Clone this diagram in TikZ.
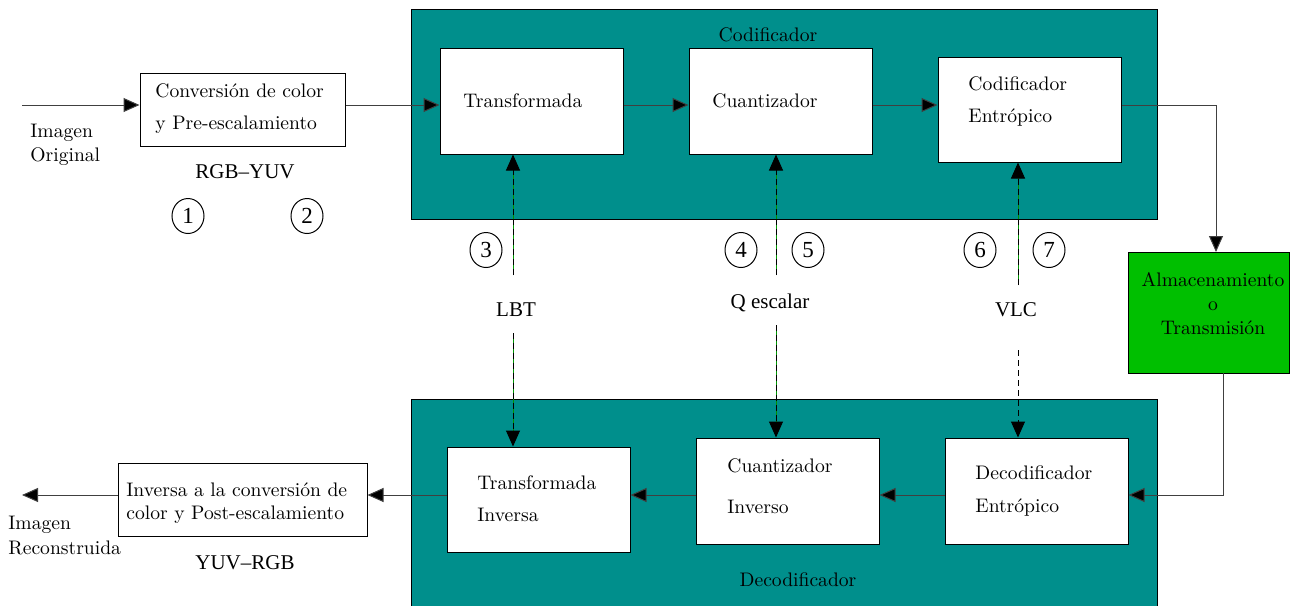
\documentclass[tikz,border=0pt]{standalone}
\usepackage{fontspec}
\newfontfamily\tms{Liberation Serif}
\usetikzlibrary{arrows.meta,shapes.geometric}
\definecolor{tealc}{RGB}{0,143,140}
\definecolor{greenc}{RGB}{0,191,0}
\definecolor{dgreen}{RGB}{0,150,0}
\newcommand\txs[1]{\fontsize{9.8}{#1}\selectfont}
\begin{document}
\begin{tikzpicture}[x=0.5pt,y=-0.5pt,
  font=\txs{12},
  box/.style={draw, fill=white, line width=0.5pt, inner sep=0pt},
  big/.style={draw, fill=tealc, line width=0.5pt, inner sep=0pt, minimum width=373pt, minimum height=105pt},
  lnk/.style={line width=0.5pt, draw=black!75, -{Triangle[length=8pt,width=7pt,fill=black]}},
  dlnk/.style={line width=0.5pt, dash pattern=on 3pt off 2pt, -{Triangle[length=8pt,width=7pt,fill=black]}},
  gline/.style={line width=0.5pt, dgreen},
  lbl/.style={align=left, inner sep=0pt},
  tlbl/.style={font=\tms\fontsize{10.5}{12}\selectfont, inner sep=0pt},
  num/.style={draw, ellipse, line width=0.5pt, minimum width=16pt, minimum height=17.5pt, inner sep=0pt, font=\tms\fontsize{11.5}{12}\selectfont}]
\useasboundingbox (0,0) rectangle (1298,606);

% big blocks
\node[big] (cod) at (784,114) {};
\node[big] (dec) at (784,504) {};
\node (codt) at (768,35) {Codificador};
\node (dect) at (798,580) {Decodificador};

% boxes
\node[box, minimum width=102.5pt, minimum height=36.5pt] (conv) at (242.5,109.5) {};
\node[box, minimum width=91.5pt, minimum height=53pt] (tr) at (531.5,101) {};
\node[box, minimum width=91.5pt, minimum height=53pt] (cu) at (780.5,101) {};
\node[box, minimum width=91.5pt, minimum height=52.5pt] (ce) at (1029.5,109.5) {};
\node[box, fill=greenc, minimum width=80.5pt, minimum height=60.5pt] (alm) at (1208.5,312.5) {};
\node[box, minimum width=91.5pt, minimum height=52.5pt] (ti) at (538.5,499.5) {};
\node[box, minimum width=91.5pt, minimum height=53pt] (ci) at (787.5,491) {};
\node[box, minimum width=91.5pt, minimum height=53pt] (de) at (1036.5,491) {};
\node[box, minimum width=124.5pt, minimum height=36.5pt] (inv) at (242.5,499.5) {};

% texts
\node[lbl, anchor=west, font=\txs{16}] (convt) at (155,109) {Conversión de color\\y Pre-escalamiento};
\node[lbl, anchor=west, font=\txs{12}] (inl) at (30,145) {Imagen\\Original};
\node[lbl, anchor=west] (trt) at (463,101) {Transformada};
\node[lbl, anchor=west] (cut) at (712,101) {Cuantizador};
\node[lbl, anchor=west, font=\txs{16}] (cet) at (968,101) {Codificador\\Entrópico};
\node[align=center, inner sep=0pt, font=\txs{12}] (almt) at (1213,304) {Almacenamiento\\o\\Transmisión};
\node[lbl, anchor=west, font=\txs{16}] (tit) at (477,499) {Transformada\\Inversa};
\node[lbl, anchor=west, font=\txs{20.5}] (cit) at (727,486.5) {Cuantizador\\Inverso};
\node[lbl, anchor=west, font=\txs{16.5}] (det) at (975,490.5) {Decodificador\\Entrópico};
\node[lbl, anchor=west, font=\txs{11.5}] (invt) at (126,503.5) {Inversa a la conversión de\\color y Post-escalamiento};
\node[lbl, anchor=west, font=\txs{12.5}] (outl) at (8,535.5) {Imagen\\Reconstruida};

\node[tlbl] (rgb) at (245,172) {RGB–YUV};
\node[tlbl] (yuv) at (245,563) {YUV–RGB};
\node[tlbl] (lbt) at (516,310) {LBT};
\node[tlbl] (qe) at (770,303) {Q escalar};
\node[tlbl] (vlc) at (1016,310) {VLC};

\node[num] (n1) at (188,216) {1};
\node[num] (n2) at (307,216) {2};
\node[num] (n3) at (486,250) {3};
\node[num] (n4) at (741,250) {4};
\node[num] (n5) at (808,250) {5};
\node[num] (n6) at (980,250) {6};
\node[num] (n7) at (1049,250) {7};

% coordinates
\coordinate (in) at (22,105);
\coordinate (out) at (22,495);
\coordinate (rowb) at (0,495);
\coordinate (a1) at (1216,252);
\coordinate (a2) at (1223,373);
\coordinate (l1) at (513,275);
\coordinate (l2) at (513,333);
\coordinate (q1) at (776,275);
\coordinate (q2) at (776,325);
\coordinate (v1) at (1018,285);
\coordinate (v2) at (1018,350);

% solid connectors
\draw[lnk] (in) -- (conv.west |- in);
\draw[lnk] (conv.east |- in) -- (tr.west |- in);
\draw[lnk] (tr.east |- in) -- (cu.west |- in);
\draw[lnk] (cu.east |- in) -- (ce.west |- in);
\draw[lnk] (ce.east |- in) -| (a1);
\draw[lnk] (a2) |- (de.east |- rowb);
\draw[lnk] (de.west |- rowb) -- (ci.east |- rowb);
\draw[lnk] (ci.west |- rowb) -- (ti.east |- rowb);
\draw[lnk] (ti.west |- rowb) -- (inv.east |- rowb);
\draw[lnk] (inv.west |- rowb) -- (out);

% dashed connectors
\draw[gline] (l1) -- ([yshift=-7pt]l1 |- tr.south);
\draw[dlnk] (l1) -- (l1 |- tr.south);
\draw[gline] (l2) -- ([yshift=7pt]l2 |- ti.north);
\draw[dlnk] (l2) -- (l2 |- ti.north);
\draw[gline] (q1) -- ([yshift=-7pt]q1 |- cu.south);
\draw[dlnk] (q1) -- (q1 |- cu.south);
\draw[gline] (q2) -- ([yshift=7pt]q2 |- ci.north);
\draw[dlnk] (q2) -- (q2 |- ci.north);
\draw[gline] (v1) -- ([yshift=-7pt]v1 |- ce.south);
\draw[dlnk] (v1) -- (v1 |- ce.south);
\draw[dlnk] (v2) -- (v2 |- de.north);
\end{tikzpicture}
\end{document}
